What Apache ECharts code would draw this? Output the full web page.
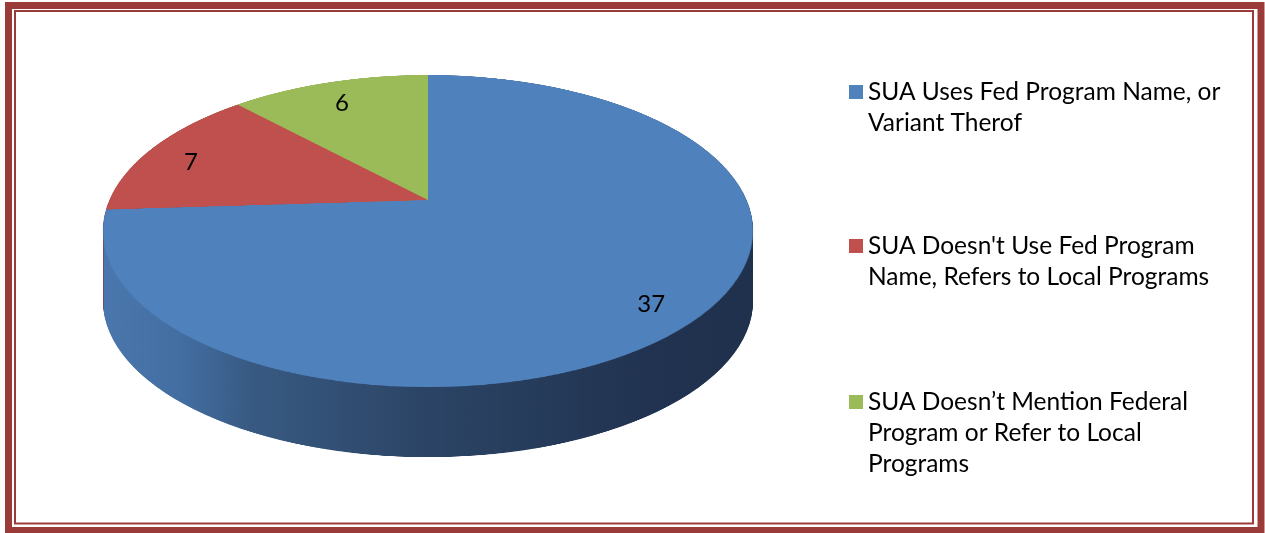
<!DOCTYPE html>
<html><head><meta charset="utf-8">
<script src="https://cdn.jsdelivr.net/npm/echarts@6/dist/echarts.min.js"></script>
<style>
html,body{margin:0;padding:0;width:1265px;height:533px;overflow:hidden;background:#fff;}
#side{position:absolute;left:0;top:0;width:1265px;transform-origin:0 0;}
#face{position:absolute;left:0;top:0;transform-origin:0 0;}
#top{position:absolute;left:0;top:0;width:1265px;height:533px;}
</style></head><body>
<div id="side"></div><div id="face"></div><div id="top"></div>
<script>
// ---- data ----
const categories = [
  "SUA Uses Fed Program Name, or\nVariant Therof",
  "SUA Doesn't Use Fed Program\nName, Refers to Local Programs",
  "SUA Doesn\u2019t Mention Federal\nProgram or Refer to Local\nPrograms"
];
const values = [37, 7, 6];
const sliceColors = ['#4f81bd', '#c0504d', '#9bbb59'];

// ---- geometry / style ----
const FONT = 'Lato';
// perspective view of the pie top: apex (CX, AY), tilt a
const CX = 428, AY = 200, RXP = 318.5, RYP = 149.9, TILT = 0.199;
// resulting outline ellipse (for the side)
const ELL_CY = AY + RYP * TILT / (1 - TILT * TILT);
const ELL_RX = RXP / Math.sqrt(1 - TILT * TILT);
const ELL_RY = (RYP / (1 - TILT) + RYP / (1 + TILT)) / 2;
const DEPTH = 70;

const pieData = categories.map((n, i) => ({ name: n, value: values[i] }));
const total = values.reduce((a, b) => a + b, 0);
function midAngle(i) { let s = 0; for (let j = 0; j < i; j++) s += values[j]; return (s + values[i] / 2) / total * 2 * Math.PI; }
function project(u, v) { const w = 1 - TILT * v; return [CX + RXP * u / w, AY + RYP * v / w]; }

// ---- side (orthographic stack of the outline ellipse) ----
const K = ELL_RY / ELL_RX;
const sideDiv = document.getElementById('side');
sideDiv.style.height = (533 / K) + 'px';
sideDiv.style.transform = 'scaleY(' + K + ')';
const blueSide = new echarts.graphic.LinearGradient(CX - ELL_RX, 0, CX + ELL_RX, 0, [
  { offset: 0, color: '#4a77ad' }, { offset: 0.12, color: '#436ea2' },
  { offset: 0.23, color: '#385a82' }, { offset: 0.49, color: '#2c4566' },
  { offset: 0.84, color: '#213350' }, { offset: 1, color: '#1f314d' }], true);
const sideColors = [blueSide, '#8c3a37', '#718a40'];
const sideSeries = [];
const depthU = DEPTH / K, baseCY = ELL_CY / K;
for (let d = depthU; d >= 0; d -= 1.6) {
  sideSeries.push({
    type: 'pie', silent: true, animation: false,
    center: [CX, baseCY + d], radius: ELL_RX, startAngle: 90, clockwise: true,
    label: { show: false }, labelLine: { show: false }, emphasis: { disabled: true },
    data: pieData.map((p, i) => ({ name: p.name, value: p.value, itemStyle: { color: sideColors[i], borderWidth: 0 } }))
  });
}
echarts.init(sideDiv).setOption({ animation: false, series: sideSeries });

// ---- face (pie drawn flat, then put in perspective with a CSS homography) ----
const S = 400, C0 = S + 10;
const faceDiv = document.getElementById('face');
faceDiv.style.width = (2 * C0) + 'px';
faceDiv.style.height = (2 * C0) + 'px';
const W0 = 1 + TILT * C0 / S;
const H = [
  [RXP / S, -CX * TILT / S, CX * W0 - RXP * C0 / S],
  [0, (RYP - AY * TILT) / S, AY * W0 - RYP * C0 / S],
  [0, -TILT / S, W0]
].map(r => r.map(x => x / W0));
faceDiv.style.transform = 'matrix3d(' + [H[0][0], H[1][0], 0, H[2][0], H[0][1], H[1][1], 0, H[2][1], 0, 0, 1, 0, H[0][2], H[1][2], 0, H[2][2]].join(',') + ')';
echarts.init(faceDiv).setOption({
  animation: false,
  series: [{
    type: 'pie', silent: true, center: [C0, C0], radius: S, startAngle: 90, clockwise: true,
    label: { show: false }, labelLine: { show: false }, emphasis: { disabled: true },
    data: pieData.map((p, i) => ({ name: p.name, value: p.value, itemStyle: { color: sliceColors[i], borderWidth: 0 } }))
  }]
});

// ---- overlay: labels, legend, border ----
const LF = 0.85, LDY = 6;
const chartTop = echarts.init(document.getElementById('top'));
const legendFirstLine = [92, 246, 402];
const LH = 31;
chartTop.setOption({
  animation: false,
  legend: categories.map((n, i) => {
    const lines = n.split('\n').length;
    const Ht = (2 * lines - 1) * LH;
    return {
      data: [{ name: n, itemStyle: { color: sliceColors[i] } }],
      formatter: nm => '\n'.repeat(lines - 1) + nm,
      orient: 'vertical', left: 849, top: legendFirstLine[i] - Ht / 2,
      padding: 0, icon: 'rect', itemWidth: 14, itemHeight: 14, selectedMode: false,
      textStyle: { fontFamily: FONT, fontSize: 24.5, color: '#000', lineHeight: LH }
    };
  }),
  series: [{
    type: 'pie', silent: true, center: [CX, ELL_CY], radius: ELL_RX, startAngle: 90, clockwise: true,
    itemStyle: { color: 'rgba(0,0,0,0)', borderWidth: 0 },
    emphasis: { disabled: true },
    label: { show: true, position: 'inside', formatter: '{c}', fontFamily: FONT, fontSize: 24, color: '#000' },
    labelLine: { show: false },
    labelLayout: p => {
      const a = midAngle(p.dataIndex);
      const pt = project(LF * Math.sin(a), -LF * Math.cos(a));
      return { x: pt[0], y: pt[1] + LDY, align: 'center', verticalAlign: 'middle' };
    },
    data: pieData.map((p) => ({ name: p.name, value: p.value, itemStyle: { color: 'rgba(0,0,0,0)' } }))
  }],
  graphic: [
    { type: 'rect', silent: true, shape: { x: 8.5, y: 5.5, width: 1252.5, height: 525 }, style: { fill: 'none', stroke: '#9b3b39', lineWidth: 7 } },
    { type: 'rect', silent: true, shape: { x: 15, y: 11, width: 1238, height: 512.5 }, style: { fill: 'none', stroke: '#9b3b39', lineWidth: 2 } }
  ]
});
</script>
</body></html>
